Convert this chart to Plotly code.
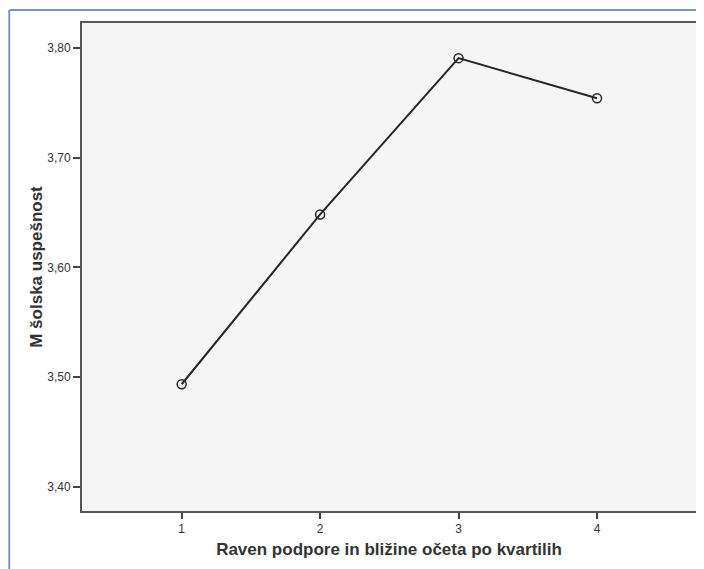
import plotly.graph_objects as go

categories = [1, 2, 3, 4]
values = [3.4936, 3.6482, 3.7905, 3.7540]
y_tick_vals = [3.40, 3.50, 3.60, 3.70, 3.80]
y_tick_text = ["3,40", "3,50", "3,60", "3,70", "3,80"]
x_tick_text = ["1", "2", "3", "4"]
x_title = "Raven podpore in bližine očeta po kvartilih"
y_title = "M šolska uspešnost"

# the page places the figure 8px from the top-left corner
W, H = 696, 561
ml, mr, mt, mb = 74, 6, 15, 58
pw, ph = W - ml - mr, H - mt - mb

fig = go.Figure()
fig.add_trace(go.Scatter(
    x=categories, y=values, mode="lines+markers",
    line=dict(color="#262626", width=2),
    marker=dict(symbol="circle-open", size=9, color="#262626", line=dict(width=1.5)),
    showlegend=False, hoverinfo="skip",
))

font_family = "Liberation Sans, Arial, sans-serif"

# blue outer frame (top and left)
bx = (1 - ml) / pw
by = (H - mb - 2) / ph
fig.add_shape(type="line", xref="paper", yref="paper", x0=bx, x1=(W - ml) / pw,
              y0=by, y1=by, line=dict(color="#7f95c8", width=2))
fig.add_shape(type="line", xref="paper", yref="paper", x0=bx, x1=bx,
              y0=by, y1=-mb / ph, line=dict(color="#7f95c8", width=2))

fig.update_layout(
    width=W, height=H,
    margin=dict(l=ml, r=mr, t=mt, b=mb),
    paper_bgcolor="white",
    plot_bgcolor="#f5f5f5",
    font=dict(family=font_family, color="#333333", size=12),
    xaxis=dict(
        range=[0.28, 4.715],
        tickvals=categories, ticktext=x_tick_text,
        ticks="outside", ticklen=6, tickwidth=1.5, tickcolor="#444444",
        showgrid=False, zeroline=False,
        showline=True, linecolor="#555555", linewidth=2, mirror=True,
        tickfont=dict(size=12, color="#333333"),
        title=dict(text="<b>" + x_title + "</b>",
                   font=dict(size=17, color="#333333", family=font_family), standoff=8),
    ),
    yaxis=dict(
        range=[3.3782, 3.8225],
        tickvals=y_tick_vals, ticktext=y_tick_text,
        ticks="outside", ticklen=7, tickwidth=1.5, tickcolor="#444444",
        showgrid=False, zeroline=False,
        showline=True, linecolor="#555555", linewidth=2, mirror=True,
        tickfont=dict(size=12, color="#333333"),
        title=dict(text="<b>" + y_title + "</b>",
                   font=dict(size=17, color="#333333", family=font_family), standoff=0),
    ),
)

fig.write_html("out.html")
